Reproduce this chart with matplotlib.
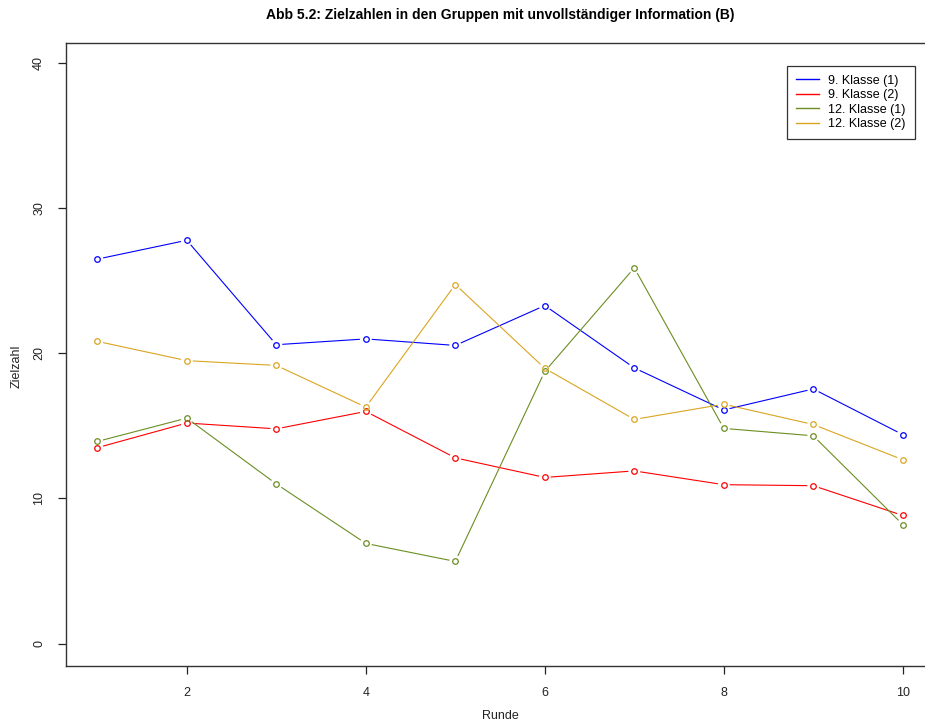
import matplotlib
matplotlib.use("Agg")
import matplotlib.pyplot as plt
import numpy as np

plt.rcParams["font.family"] = ["Liberation Sans", "DejaVu Sans"]

runden = np.arange(1, 11)
klasse9_1 = [26.5, 27.8, 20.6, 21.0, 20.55, 23.3, 19.0, 16.1, 17.55, 14.4]
klasse9_2 = [13.5, 15.2, 14.8, 16.0, 12.8, 11.45, 11.9, 10.95, 10.88, 8.83]
klasse12_1 = [13.93, 15.54, 11.0, 6.9, 5.66, 18.76, 25.9, 14.83, 14.32, 8.2]
klasse12_2 = [20.83, 19.5, 19.17, 16.3, 24.75, 18.97, 15.45, 16.5, 15.1, 12.67]

series = [
    ("9. Klasse (1)", klasse9_1, "blue"),
    ("9. Klasse (2)", klasse9_2, "red"),
    ("12. Klasse (1)", klasse12_1, "olivedrab"),
    ("12. Klasse (2)", klasse12_2, "goldenrod"),
]

fig = plt.figure(figsize=(9.25, 7.27), dpi=100)
W, H = 925, 727
# plot region: R-style padding, right edge falls outside the canvas
ax = fig.add_axes([66 / W, 61 / H, (935 - 66) / W, (666 - 43) / H])
ax.set_xlim(0.65, 10.36)
ax.set_ylim(-1.55, 41.4)

gap = 6.5  # px left open around each point (type="b")
for label, vals, col in series:
    pts = ax.transData.transform(np.column_stack([runden, vals]))
    for p, q in zip(pts[:-1], pts[1:]):
        d = q - p
        n = np.hypot(*d)
        if n <= 2 * gap:
            continue
        u = d / n
        seg = ax.transData.inverted().transform([p + u * gap, q - u * gap])
        ax.plot(seg[:, 0], seg[:, 1], color=col, lw=0.8)
    ax.plot(runden, vals, "o", ls="none", mfc="none", mec=col, ms=4, mew=0.9)
    ax.plot([], [], color=col, lw=1.0, label=label)

for s in ax.spines.values():
    s.set_color("#333333")
    s.set_linewidth(1.0)

ax.set_xticks([2, 4, 6, 8, 10])
ax.set_yticks([0, 10, 20, 30, 40])
ax.tick_params(length=6, width=0.9, color="#222222", labelsize=9, pad=9,
               labelcolor="#222222")
for t in ax.get_yticklabels():
    t.set_rotation(90)
    t.set_va("center")

fig.text(500 / W, 1 - 716 / H, "Runde", ha="center", va="center",
         fontsize=9, color="#222222")
fig.text(17 / W, 1 - 366 / H, "Zielzahl", ha="center", va="center",
         rotation=90, fontsize=9, color="#222222")
fig.text(500 / W, 1 - 15 / H,
         "Abb 5.2: Zielzahlen in den Gruppen mit unvollständiger Information (B)",
         ha="center", va="center", fontsize=10, fontweight="bold")

leg = ax.legend(loc="upper left",
                bbox_to_anchor=((787 - 66) / 869, (666 - 66) / 623),
                fontsize=9, frameon=True, fancybox=False, handlelength=1.9,
                handletextpad=0.72, labelspacing=0.2, borderpad=0.7,
                borderaxespad=0)
leg.get_frame().set_edgecolor("black")
leg.get_frame().set_linewidth(0.9)

fig.savefig("out.png", dpi=100)
plt.close(fig)
